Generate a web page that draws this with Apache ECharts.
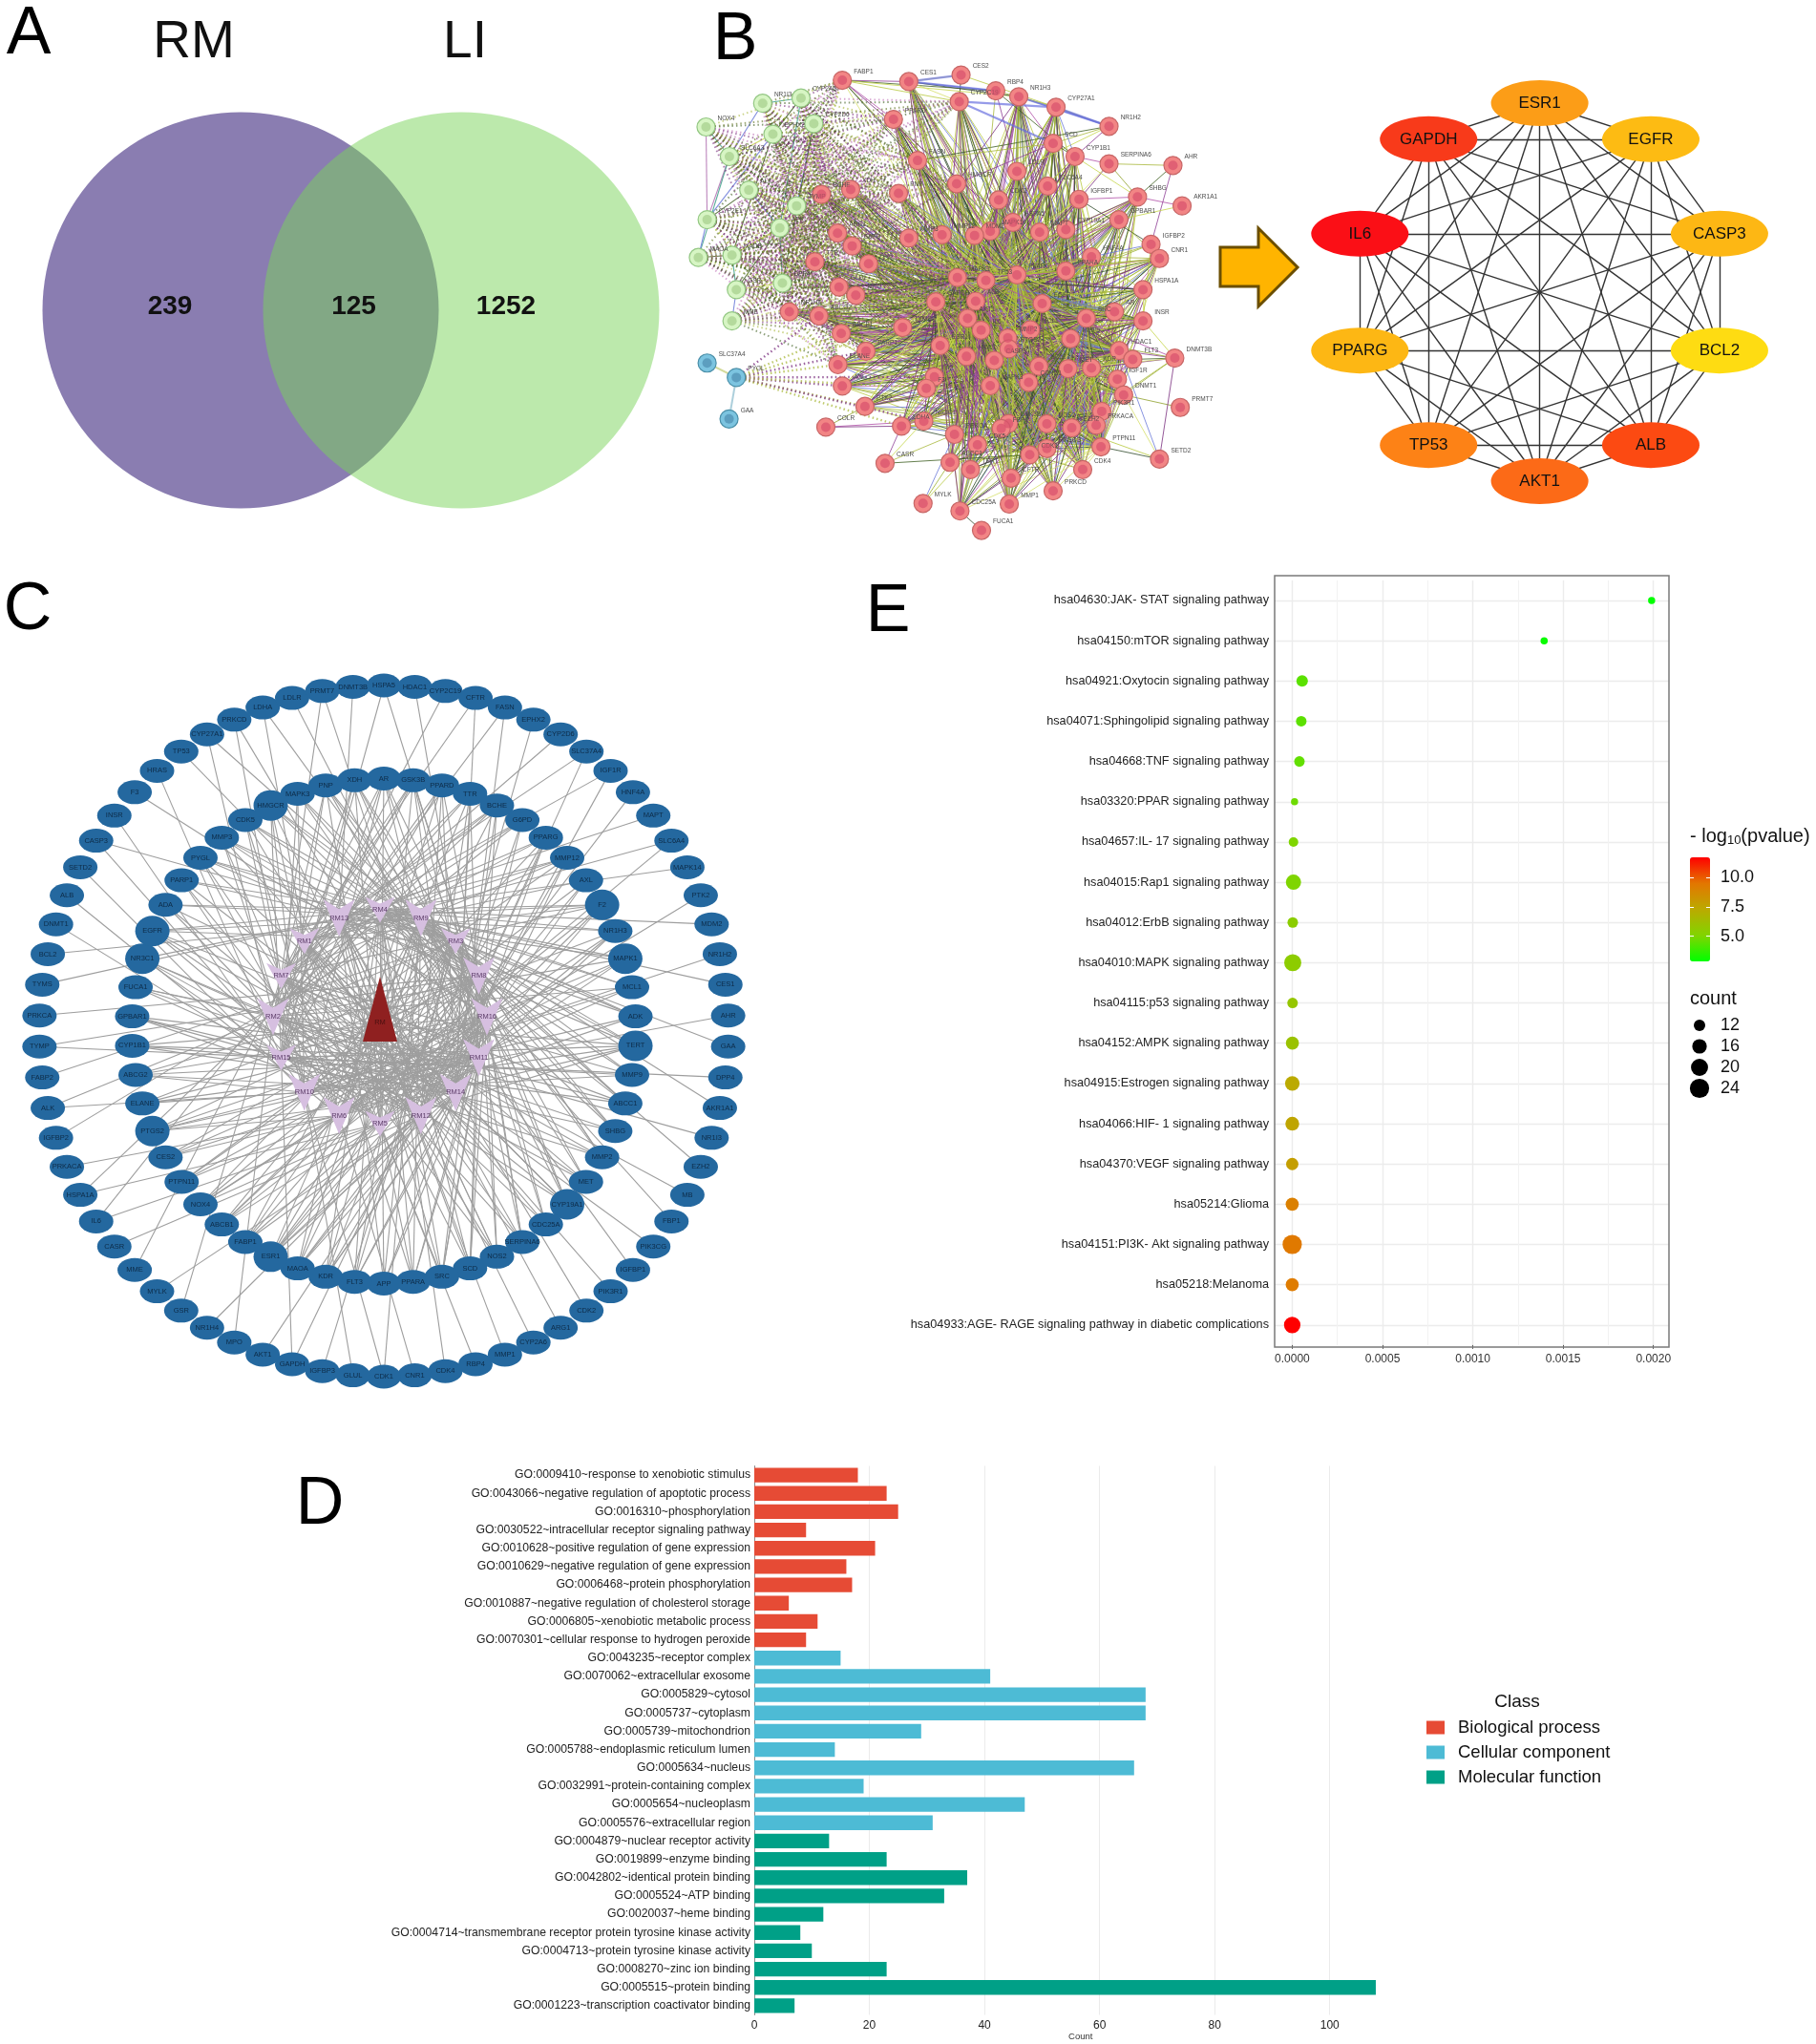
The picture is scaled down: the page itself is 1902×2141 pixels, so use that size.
<!DOCTYPE html>
<html><head><meta charset="utf-8">
<script src="https://cdn.jsdelivr.net/npm/echarts@6/dist/echarts.min.js"></script>
<style>html,body{margin:0;padding:0;background:#fff}#c{width:1902px;height:2141px}</style>
</head><body><div id="c"></div>
<script>
// ---------- Panel A data
const vennSets = ['RM', 'LI'];
const vennCounts = [239, 125, 1252];

// ---------- Panel B (right): hub genes, clockwise from top
const hubGenes = ['ESR1','EGFR','CASP3','BCL2','ALB','AKT1','TP53','PPARG','IL6','GAPDH'];
const hubColors = ['#fc9d17','#fdbb13','#fdb714','#fedc12','#fc4a12','#fc6a17','#fd8216','#fdb714','#fb0f16','#f83a1a'];

// ---------- Panel B (left): STRING network, positions (picture units 0..1568)
const bRed = [['FABP1',450,128],['CES1',632,132],['CES2',775,112],['CYP2C19',770,193],['RBP4',870,160],['NR1H3',933,178],['CYP27A1',1035,210],['NR1H2',1180,268],['PPARD',590,247],['SCD',1027,320],['CYP1B1',1087,360],['SERPINA6',1180,382],['AHR',1355,387],['FASN',656,372],['LDLR',928,405],['HMGCR',763,443],['SLC6A4',1012,450],['AKR1A1',1380,510],['SHBG',1258,483],['BCHE',393,475],['XDH',473,460],['PNP',604,472],['CDK2',878,492],['IGFBP1',1098,490],['GPBAR1',1207,552],['CYP19A1',1062,582],['HSPA5',917,560],['MAPT',990,590],['MAPK14',855,587],['MDM2',812,600],['MMP12',723,598],['MMP3',632,608],['ARG1',437,593],['G6PD',477,632],['TTR',375,680],['ADA',522,686],['IGFBP2',1295,627],['CNR1',1318,670],['HNF4A',1132,665],['PPARA',1062,708],['PPARG',928,720],['TP53',843,737],['MAPK1',765,728],['GLUL',441,757],['MPO',487,782],['HSPA1A',1273,765],['GAPDH',706,802],['ALB',815,800],['EGFR',997,807],['AR',1195,832],['INSR',1273,860],['NR1H4',305,832],['ABCG2',386,845],['AKT1',793,852],['SRC',1118,852],['TYMS',615,880],['IL6',830,888],['ABCB1',447,898],['MCL1',965,887],['MMP2',903,912],['MMP9',1075,914],['PARP1',515,952],['ESR1',718,935],['PTGS2',906,945],['HRAS',790,968],['CASP3',866,980],['DNMT3B',1360,973],['HDAC1',1208,950],['FLT3',1245,977],['BCL2',988,998],['MET',1068,1005],['KDR',1132,1003],['ELANE',438,993],['F2',702,1030],['F3',680,1065],['IGF1R',1203,1037],['MAPK3',855,1057],['CCND1',960,1047],['AXL',450,1058],['DNMT1',1220,1085],['PRMT7',1375,1123],['PTK2',512,1120],['PIK3R1',1160,1135],['COLR',405,1183],['LDHA',612,1180],['NR3C1',673,1165],['GSK3B',905,1172],['FBP1',885,1187],['NOS2',1010,1173],['EZH2',1078,1185],['PRKACA',1145,1177],['PRKCA',757,1205],['CDK5',820,1237],['PTPN11',1158,1243],['PIK3CG',1010,1248],['CDK1',963,1267],['SETD2',1318,1280],['CASR',567,1293],['ABCC1',745,1290],['TERT',801,1312],['CDK4',1108,1312],['CFTR',912,1338],['PRKCD',1027,1377],['MYLK',671,1415],['CDC25A',772,1438],['MMP1',907,1417],['FUCA1',831,1497]];
const bGreen = [['NR1I3',232,198],['CYP2A6',337,182],['NOX4',77,270],['CYP2D6',372,260],['EPHX2',260,292],['SLC6A3',141,360],['ALK',194,462],['TYMP',325,510],['CYP2E1',80,552],['APP',279,577],['MAOA',56,667],['MAOB',148,660],['DPP4',286,745],['GSR',160,765],['MME',148,860]];
const bBlue = [['SLC37A4',80,988],['PYGL',160,1032],['GAA',140,1158]];
const bCentral = ['AKT1','IL6','ALB','GAPDH','TP53','EGFR','ESR1','CASP3','BCL2','PPARG','SRC','MAPK1','MAPK3','HRAS','MMP9','KDR','MET','CDK1','PIK3R1','PTPN11','EZH2','HDAC1','MMP2','PTGS2'];
const bFringe = ['AHR','AKR1A1','PRMT7','SETD2','DNMT3B','FUCA1','MYLK','CASR','COLR','CES2','NR1H2','SERPINA6','IGFBP2','FABP1','RBP4'];
const bRimLinks = [['AHR','SERPINA6'],['AHR','IGFBP2'],['AHR','SHBG'],['AKR1A1','GPBAR1'],['AKR1A1','SHBG'],['PRMT7','DNMT1'],['SETD2','DNMT3B'],['SETD2','DNMT1'],['SETD2','PTPN11'],['SETD2','EZH2'],['SETD2','HDAC1'],['DNMT3B','DNMT1'],['DNMT3B','EZH2'],['DNMT3B','HDAC1'],['DNMT3B','FLT3'],['DNMT3B','INSR'],['DNMT3B','TP53'],['DNMT3B','AKT1'],['DNMT3B','KDR'],['DNMT3B','MET'],['FUCA1','CDC25A'],['MYLK','CDK5'],['MYLK','PRKCA'],['MYLK','ABCC1'],['CASR','PRKCA'],['CASR','LDHA'],['CASR','CDK1'],['CASR','NR3C1'],['COLR','NR3C1'],['COLR','PTK2'],['COLR','LDHA'],['CES2','CES1'],['CES2','CYP2C19'],['CES2','CYP27A1'],['NR1H2','NR1H3'],['NR1H2','CYP27A1'],['NR1H2','SCD'],['NR1H2','CYP1B1'],['NR1H2','FASN'],['NR1H2','LDLR'],['SERPINA6','CYP1B1'],['SERPINA6','SHBG'],['SERPINA6','IGFBP1'],['SERPINA6','ALB'],['IGFBP2','IGFBP1'],['IGFBP2','INSR'],['IGFBP2','HNF4A'],['IGFBP2','AKT1'],['IGFBP2','ALB'],['FABP1','CES1'],['FABP1','RBP4'],['FABP1','NR1H3'],['FABP1','PPARD'],['FABP1','FASN'],['FABP1','PPARA'],['FABP1','ALB'],['FABP1','PPARG'],['FABP1','CYP2C19'],['RBP4','CES1'],['RBP4','CYP27A1'],['RBP4','ALB'],['RBP4','LDLR'],['RBP4','CYP1B1'],['NR1H3','CYP27A1'],['NR1H3','SCD'],['NR1H3','LDLR'],['NR1H3','HMGCR'],['CES1','CYP2C19'],['CES1','NR1H3'],['CYP27A1','SCD'],['CYP27A1','CYP1B1'],['CYP27A1','LDLR'],['SCD','FASN'],['SCD','HMGCR'],['SCD','CYP1B1'],['SHBG','CYP1B1'],['SHBG','IGFBP1'],['SHBG','GPBAR1'],['SHBG','CYP19A1'],['INSR','HSPA1A'],['INSR','AR'],['HSPA1A','HNF4A'],['HSPA1A','AR'],['CNR1','GPBAR1'],['CNR1','HNF4A'],['HNF4A','PPARA']];
const bBlueLinks = [['CES1','CES2'],['CYP27A1','NR1H2'],['CYP2C19','CYP27A1'],['NR1H3','NR1H2'],['CYP2C19','SCD'],['RBP4','CES1']];
const bGreenLinks = [['NR1I3','CYP2A6'],['NR1I3','EPHX2'],['NR1I3','SLC6A3'],['CYP2A6','EPHX2'],['CYP2A6','CYP2D6'],['CYP2A6','APP'],['CYP2D6','APP'],['CYP2D6','TYMP'],['CYP2D6','DPP4'],['NOX4','CYP2E1'],['NOX4','SLC6A3'],['EPHX2','SLC6A3'],['EPHX2','CYP2E1'],['EPHX2','MAOB'],['SLC6A3','CYP2E1'],['SLC6A3','MAOA'],['ALK','TYMP'],['ALK','APP'],['ALK','CYP2E1'],['TYMP','APP'],['APP','DPP4'],['APP','MAOB'],['CYP2E1','MAOA'],['MAOA','MAOB'],['MAOB','DPP4'],['MAOB','GSR'],['DPP4','GSR'],['GSR','MME'],['GSR','APP']];
const bDottedTargets = ['FABP1','PPARD','FASN','CYP2C19','HMGCR','BCHE','XDH','PNP','ARG1','G6PD','TTR','ADA','GLUL','MPO','NR1H4','ABCG2','ABCB1','TYMS','PARP1','ELANE','GAPDH','MMP3','MMP12','AKT1','ALB','TP53'];
const bPyglTargets = ['ELANE','AXL','PTK2','PARP1','ABCB1','ABCG2','TYMS','F2','F3','NR3C1','LDHA'];

// ---------- Panel C: compound-target network rings, clockwise from top
const cOuter = ['HSPA5','HDAC1','CYP2C19','CFTR','FASN','EPHX2','CYP2D6','SLC37A4','IGF1R','HNF4A','MAPT','SLC6A4','MAPK14','PTK2','MDM2','NR1H2','CES1','AHR','GAA','DPP4','AKR1A1','NR1I3','EZH2','MB','FBP1','PIK3CG','IGFBP1','PIK3R1','CDK2','ARG1','CYP2A6','MMP1','RBP4','CDK4','CNR1','CDK1','GLUL','IGFBP3','GAPDH','AKT1','MPO','NR1H4','GSR','MYLK','MME','CASR','IL6','HSPA1A','PRKACA','IGFBP2','ALK','FABP2','TYMP','PRKCA','TYMS','BCL2','DNMT1','ALB','SETD2','CASP3','INSR','F3','HRAS','TP53','CYP27A1','PRKCD','LDHA','LDLR','PRMT7','DNMT3B'];
const cOuterLinks = [[15,16],[11],[2],[14,7],[2,14],[12],[7],[12,1],[1,12],[5],[13],[6,1],[4],[6],[4],[10],[9],[10],[3],[15],[3],[2],[8],[7],[16],[7],[11],[1],[14],[13],[12],[13],[5],[4],[6],[9,10],[10],[3],[15,8],[16],[2],[11],[7],[14],[1],[12],[13,5],[5,4],[6],[9],[10,3],[3],[15,8],[8],[4],[9],[5],[6],[10],[3,6],[10],[16],[15],[11],[2,8],[14,7],[1,16],[11],[14,7],[13]];
const cInner = ['AR','GSK3B','PPARD','TTR','BCHE','G6PD','PPARG','MMP12','AXL','F2','NR1H3','MAPK1','MCL1','ADK','TERT','MMP9','ABCC1','SHBG','MMP2','MET','CYP19A1','CDC25A','SERPINA6','NOS2','SCD','SRC','PPARA','APP','FLT3','KDR','MAOA','ESR1','FABP1','ABCB1','NOX4','PTPN11','CES2','PTGS2','ELANE','ABCG2','CYP1B1','GPBAR1','FUCA1','NR3C1','EGFR','ADA','PARP1','PYGL','MMP3','CDK5','HMGCR','MAPK3','PNP','XDH'];
const cInnerLinks = [[8,11,10,15,7,14],[16,11,14,15,2,7],[16,14,12,2,15],[11,14,12,2,7],[14,11,2,7,1],[12,14,7,2],[14,12,5,7,1],[14,12,7,1,13],[12,1,5],[12,5,6,1,13,4,7],[5,6,13,4,12],[5,6,10,4,13],[6,10,4,9],[6,10,4,13,9],[6,10,15,4,9,13,5],[10,15,9,4],[15,2,9,3,4],[15,2,9,3,4],[2,15,3,9,8],[2,7,3,9],[2,7,8,3,9,1],[7,1,8,3],[7,1,8,16,3],[1,7,16,8,13],[1,13,16,8,11],[13,1,16,11,8],[13,4,11,16,1],[4,13,11,14,9],[4,9,14,11],[9,4,14,12,11],[9,3,12,14,4],[3,9,12,5,14,8],[3,8,5,12],[8,3,5,6],[8,16,5,6],[16,8,6,10],[16,11,6,8],[16,11,6,10,14,8],[11,16,10],[11,14,10,16],[14,11,15],[14,12,15,11],[14,12,2],[12,14,5,4,2],[12,5,14,9,4,3],[5,12,9,4],[5,6,9,3],[6,5,3,9,8],[6,10,3,8,16],[10,6,8,3],[10,15,8,16,6,3],[10,15,16,8,11],[15,2,16,11,8],[15,2,11,16,8]];
const cCrossLinks = [['AR',5],['PPARD',6],['BCHE',6],['PPARG',10],['AXL',10],['NR1H3',15],['MCL1',2],['TERT',2],['ABCC1',7],['MMP2',7],['CYP19A1',1],['SERPINA6',13],['SCD',4],['PPARA',9],['FLT3',3],['MAOA',16],['ESR1',16],['FABP1',9],['NOX4',3],['ELANE',8],['CYP1B1',16],['FUCA1',11],['EGFR',11],['PARP1',14],['MMP3',14],['HMGCR',12],['PNP',5],['XDH',5],['GSK3B',5],['TTR',6],['MMP12',15],['MAPK1',2],['MMP9',7],['MET',1],['NOS2',13],['SRC',4],['KDR',3],['ABCB1',16],['ABCG2',8],['ADA',11],['PYGL',14],['CDK5',12]];
const cHerbs = ['RM4','RM9','RM3','RM8','RM16','RM11','RM14','RM12','RM5','RM6','RM10','RM15','RM2','RM7','RM1','RM13'];
const cBigHerbs = ['RM9','RM8','RM16','RM11','RM14','RM12','RM6','RM10','RM2','RM13'];
const cBigTargets = ['ESR1','CYP19A1','TERT','F2','EGFR','PTGS2','HMGCR','MAPK1','NR3C1'];

// ---------- Panel D data
const goTerms = ['GO:0009410~response to xenobiotic stimulus','GO:0043066~negative regulation of apoptotic process','GO:0016310~phosphorylation','GO:0030522~intracellular receptor signaling pathway','GO:0010628~positive regulation of gene expression','GO:0010629~negative regulation of gene expression','GO:0006468~protein phosphorylation','GO:0010887~negative regulation of cholesterol storage','GO:0006805~xenobiotic metabolic process','GO:0070301~cellular response to hydrogen peroxide','GO:0043235~receptor complex','GO:0070062~extracellular exosome','GO:0005829~cytosol','GO:0005737~cytoplasm','GO:0005739~mitochondrion','GO:0005788~endoplasmic reticulum lumen','GO:0005634~nucleus','GO:0032991~protein-containing complex','GO:0005654~nucleoplasm','GO:0005576~extracellular region','GO:0004879~nuclear receptor activity','GO:0019899~enzyme binding','GO:0042802~identical protein binding','GO:0005524~ATP binding','GO:0020037~heme binding','GO:0004714~transmembrane receptor protein tyrosine kinase activity','GO:0004713~protein tyrosine kinase activity','GO:0008270~zinc ion binding','GO:0005515~protein binding','GO:0001223~transcription coactivator binding'];
const bpCounts = [18,23,25,9,21,16,17,6,11,9];
const ccCounts = [15,41,68,68,29,14,66,19,47,31];
const mfCounts = [13,23,37,33,12,8,10,23,108,7];
const goClasses = ['Biological process','Cellular component','Molecular function'];

// ---------- Panel E data
const pathways = ['hsa04630:JAK- STAT signaling pathway','hsa04150:mTOR signaling pathway','hsa04921:Oxytocin signaling pathway','hsa04071:Sphingolipid signaling pathway','hsa04668:TNF signaling pathway','hsa03320:PPAR signaling pathway','hsa04657:IL- 17 signaling pathway','hsa04015:Rap1 signaling pathway','hsa04012:ErbB signaling pathway','hsa04010:MAPK signaling pathway','hsa04115:p53 signaling pathway','hsa04152:AMPK signaling pathway','hsa04915:Estrogen signaling pathway','hsa04066:HIF- 1 signaling pathway','hsa04370:VEGF signaling pathway','hsa05214:Glioma','hsa04151:PI3K- Akt signaling pathway','hsa05218:Melanoma','hsa04933:AGE- RAGE signaling pathway in diabetic complications'];
const pValues = [0.00199,0.001395,0.000055,0.00005,0.00004,0.000013,0.000007,0.000007,0.000003,0.000003,0.000002,0.000001,0.0000005,0.0000004,0.0000002,0.00000001,0.000000005,0.000000006,0.000000000002];
const logP = [2.7,2.85,4.26,4.3,4.4,4.6,4.9,4.9,5.3,5.4,5.7,5.9,7.2,7.4,7.7,9.0,9.3,9.2,11.7];
const pathCounts = [8,8,12,11,11,8,10,17,11,20,11,14,16,15,13,14,24,14,19];
const countBreaks = [12,16,20,24];

// ---------- helpers
const sizeFor = c => Math.sqrt(22 * c - 120);
function ring(names, cx, cy, rx, ry) {
  return names.map((n, i) => {
    const a = i / names.length * 2 * Math.PI;
    return { name: n, x: cx + rx * Math.sin(a), y: cy - ry * Math.cos(a) };
  });
}
const FONT = '"Liberation Sans", Arial, sans-serif';

// ---------- network B left
const bPalette = ['#a9b83c','#8e3f96','#3f5f22','#c5d64a','#b04fa8','#8fa02a','#7b2f7f','#d6e06a','#2f4a2a','#b8c93f','#6a79d8','#9bb030'];
const dotPalette = ['#7b2f7f','#a9b83c','#3f5f22','#c070b8','#5b6f1c'];
const bAll = bRed.map(d => d.concat('r')).concat(bGreen.map(d => d.concat('g')), bBlue.map(d => d.concat('b')));
const bStyle = { r: ['#f28585', '#c76666', '#d9506c'], g: ['#d7f5c4', '#93c783', '#a5cf8c'], b: ['#7cc4e0', '#4a8fa8', '#4f8fb0'] };
const bNodes = bAll.map(d => ({
  name: d[0], value: [d[1], d[2]],
  itemStyle: { color: bStyle[d[3]][0], borderColor: bStyle[d[3]][1], borderWidth: 1.2 }
}));
const bLinks = [];
let ci = 0;
bRed.forEach(d => {
  if (bFringe.includes(d[0])) return;
  bCentral.forEach(h => {
    if (h === d[0]) return;
    bLinks.push({ source: h, target: d[0], lineStyle: { color: bPalette[ci++ % bPalette.length], width: 1, opacity: 0.8 } });
  });
});
bRimLinks.forEach(l => bLinks.push({ source: l[0], target: l[1], lineStyle: { color: bPalette[ci++ % bPalette.length], width: 1, opacity: 0.8 } }));
bBlueLinks.forEach(l => bLinks.push({ source: l[0], target: l[1], lineStyle: { color: '#6a70e0', width: 2.2, opacity: 0.7 } }));
bGreenLinks.forEach(l => bLinks.push({ source: l[0], target: l[1], lineStyle: { color: ['#3fa08a', '#c5d64a', '#6a79d8', '#3f5f22', '#b070b0'][ci++ % 5], width: 1.1, opacity: 0.85 } }));
bGreen.forEach(g => bDottedTargets.forEach(t => {
  bLinks.push({ source: g[0], target: t, lineStyle: { color: dotPalette[ci++ % dotPalette.length], width: 2, type: [1.5, 3], opacity: 0.6 } });
}));
bPyglTargets.forEach(t => bLinks.push({ source: 'PYGL', target: t, lineStyle: { color: dotPalette[ci++ % 2], width: 2.4, type: [1.5, 3], opacity: 0.75 } }));
[['SLC37A4','PYGL','#a9b83c'],['PYGL','GAA','#5aa0b8']].forEach(l => bLinks.push({ source: l[0], target: l[1], lineStyle: { color: l[2], width: 2 } }));

// ---------- network B right
const hubPos = ring(hubGenes, 1612.6, 306, 198, 198);
const hubNodes = hubPos.map((p, i) => ({ name: p.name, value: [p.x, p.y], itemStyle: { color: hubColors[i] } }));
const hubLinks = [];
hubGenes.forEach((a, i) => hubGenes.forEach((b, j) => { if (j > i) hubLinks.push({ source: a, target: b }); }));

// ---------- network C
const outerPos = ring(cOuter, 402, 1080, 361, 362);
const innerPos = ring(cInner, 402, 1080, 264, 264.5);
const herbPos = ring(cHerbs, 398, 1065, 112, 112);
const cNodes = [];
outerPos.forEach(p => cNodes.push({ name: p.name, value: [p.x, p.y], symbolSize: [36, 25] }));
innerPos.forEach(p => cNodes.push({ name: p.name, value: [p.x, p.y], symbolSize: [36, cBigTargets.includes(p.name) ? 32 : 25] }));
herbPos.forEach(p => {
  const big = cBigHerbs.includes(p.name);
  cNodes.push({ name: p.name, value: [p.x, p.y], symbol: 'path://M0,0 L50,26 L100,0 L50,100 Z', symbolSize: big ? [33, 39] : [31, 27], itemStyle: { color: '#d6bfe0' }, label: { color: '#5a3a66' } });
});
cNodes.push({ name: 'RM', value: [398, 1057], symbol: 'triangle', symbolSize: [36, 68], itemStyle: { color: '#8f2020' }, label: { color: '#4a1010', offset: [0, 14] } });
const cLinks = [];
cOuter.forEach((n, i) => cOuterLinks[i].forEach(r => cLinks.push({ source: n, target: 'RM' + r })));
cInner.forEach((n, i) => cInnerLinks[i].forEach(r => cLinks.push({ source: n, target: 'RM' + r })));
cCrossLinks.forEach(l => cLinks.push({ source: l[0], target: 'RM' + l[1] }));

// ---------- Panel A marks
const vennMarks = [
  { value: [252, 325], itemStyle: { color: '#8a7db1', opacity: 1 } },
  { value: [483, 325], itemStyle: { color: 'rgb(121,211,89)', opacity: 0.5 } }
];

const pageAxis = (extent, extra) => Object.assign({ type: 'value', gridIndex: 0, min: 0, max: extent, show: false }, extra);

const eMajor = [0, 0.0005, 0.001, 0.0015, 0.002];
const eMinor = [0.00025, 0.00075, 0.00125, 0.00175];

const option = {
  animation: false,
  backgroundColor: '#fff',
  textStyle: { fontFamily: FONT },
  grid: [
    { left: 0, top: 0, width: 1902, height: 2141 },
    { left: 710, top: 40, width: 600, height: 540 },
    { left: 790, top: 1535.5, width: 683.5, height: 575 },
    { left: 1335, top: 607.9, width: 413, height: 801 },
    { left: 1770, top: 888.3, width: 21, height: 123 }
  ],
  xAxis: [
    pageAxis(1902),
    { type: 'value', gridIndex: 1, min: 0, max: 1568, show: false },
    { type: 'value', gridIndex: 2, min: 0, max: 113.4, interval: 20, name: 'Count', nameLocation: 'middle', nameGap: 18, nameTextStyle: { fontSize: 9.5, color: '#333' },
      axisLine: { lineStyle: { color: '#8a8a8a', width: 1.5 } }, axisTick: { show: false }, axisLabel: { color: '#222', fontSize: 12, margin: 5, showMaxLabel: false },
      splitLine: { show: true, showMinLine: false, showMaxLine: false, lineStyle: { color: '#ebebeb', width: 1 } } },
    { type: 'value', gridIndex: 3, min: -0.0000973, max: 0.002086, position: 'bottom',
      axisLine: { show: false }, axisTick: { show: true, customValues: eMajor, length: 4, lineStyle: { color: '#555' } },
      axisLabel: { customValues: eMajor, formatter: v => v.toFixed(4), color: '#333', fontSize: 12, margin: 9 },
      splitLine: { show: true, lineStyle: { color: '#ececec', width: 1.4 } } },
    { type: 'value', gridIndex: 3, min: -0.0000973, max: 0.002086, position: 'top',
      axisLine: { show: false }, axisTick: { show: false, customValues: eMinor },
      axisLabel: { show: false, customValues: eMinor },
      splitLine: { show: true, lineStyle: { color: '#f2f2f2', width: 1 } } },
    { type: 'value', gridIndex: 4, min: 0, max: 1, show: false }
  ],
  yAxis: [
    pageAxis(2141, { inverse: true }),
    { type: 'value', gridIndex: 1, min: 0, max: 1568, inverse: true, show: false },
    { type: 'category', gridIndex: 2, data: goTerms, inverse: true,
      axisLine: { lineStyle: { color: '#8a8a8a', width: 1 } }, axisTick: { show: false },
      axisLabel: { interval: 0, fontSize: 12.2, color: '#222', margin: 4 } },
    { type: 'category', gridIndex: 3, data: pathways, inverse: true,
      axisLine: { show: false }, axisTick: { alignWithLabel: true, length: 4, lineStyle: { color: '#555' } },
      axisLabel: { interval: 0, fontSize: 12.7, color: '#222', margin: 6 },
      splitLine: { show: true, alignWithLabel: true, interval: 0, lineStyle: { color: '#ececec', width: 1.4 } } },
    { type: 'value', gridIndex: 4, min: 2.5, max: 12.5, interval: 2.5, position: 'left', z: 10,
      axisLine: { show: false }, axisLabel: { show: false }, splitLine: { show: false },
      axisTick: { inside: true, length: 4, lineStyle: { color: '#fff' } } },
    { type: 'value', gridIndex: 4, min: 2.5, max: 12.5, interval: 2.5, position: 'right', z: 10,
      axisLine: { show: false }, splitLine: { show: false },
      axisTick: { inside: true, length: 4, lineStyle: { color: '#fff' } },
      axisLabel: { fontSize: 18, color: '#111', margin: 11, formatter: v => (v >= 5 && v <= 10) ? v.toFixed(1) : '' } }
  ],
  visualMap: [{
    type: 'continuous', seriesIndex: 7, dimension: 2, min: 2.7, max: 11.7,
    left: 1770, top: 898, itemWidth: 21, itemHeight: 109, padding: 0, show: true,
    calculable: false, hoverLink: false, realtime: false, text: null,
    inRange: { color: ['#00ff00', '#82d400', '#bbaa00', '#e37600', '#ff0000'] }
  }],
  legend: {
    data: goClasses, orient: 'vertical', left: 1494, top: 1800, padding: 0, itemWidth: 19, itemHeight: 14, itemGap: 7,
    selectedMode: false, icon: 'rect', textStyle: { fontSize: 18.5, color: '#111', padding: [0, 0, 0, 9] }
  },
  series: [
    // Panel A
    { type: 'scatter', xAxisIndex: 0, yAxisIndex: 0, silent: true, symbolSize: 415, data: vennMarks, z: 1 },
    // Panel B left
    { type: 'graph', coordinateSystem: 'cartesian2d', xAxisIndex: 1, yAxisIndex: 1, silent: true, symbol: 'circle', symbolSize: 19,
      data: bNodes, links: bLinks, z: 2,
      label: { show: true, position: 'right', offset: [-3, -9], fontSize: 6.5, color: '#4a4a4a' } },
    { type: 'scatter', xAxisIndex: 1, yAxisIndex: 1, silent: true, symbolSize: 10, z: 3,
      data: bAll.map(d => ({ value: [d[1], d[2]], itemStyle: { color: bStyle[d[3]][2], opacity: 0.7 } })) },
    // Panel B right
    { type: 'graph', coordinateSystem: 'cartesian2d', xAxisIndex: 0, yAxisIndex: 0, silent: true, symbol: 'circle', symbolSize: [102, 48],
      data: hubNodes, links: hubLinks, z: 2, lineStyle: { color: '#333', width: 1.4, opacity: 1 },
      label: { show: true, position: 'inside', fontSize: 17, color: '#111' } },
    // Panel C
    { type: 'graph', coordinateSystem: 'cartesian2d', xAxisIndex: 0, yAxisIndex: 0, silent: true, symbol: 'circle',
      data: cNodes, links: cLinks, z: 2, itemStyle: { color: '#24689f' }, lineStyle: { color: '#9e9e9e', width: 1.1, opacity: 1 },
      label: { show: true, position: 'inside', fontSize: 7.5, color: '#0d2b47' } },
    // Panel D
    { name: goClasses[0], type: 'bar', xAxisIndex: 2, yAxisIndex: 2, barGap: '-100%', barWidth: 15.3, itemStyle: { color: '#E64B35' }, silent: true,
      data: goTerms.map((t, i) => i < 10 ? bpCounts[i] : null) },
    { name: goClasses[1], type: 'bar', xAxisIndex: 2, yAxisIndex: 2, barGap: '-100%', barWidth: 15.3, itemStyle: { color: '#4DBBD5' }, silent: true,
      data: goTerms.map((t, i) => (i >= 10 && i < 20) ? ccCounts[i - 10] : null) },
    // Panel E
    { type: 'scatter', xAxisIndex: 3, yAxisIndex: 3, silent: true, z: 4, itemStyle: { opacity: 1 },
      symbolSize: v => sizeFor(v[3]),
      data: pathways.map((p, i) => [pValues[i], i, logP[i], pathCounts[i]]) },
    { name: goClasses[2], type: 'bar', xAxisIndex: 2, yAxisIndex: 2, barGap: '-100%', barWidth: 15.3, itemStyle: { color: '#00A087' }, silent: true,
      data: goTerms.map((t, i) => i >= 20 ? mfCounts[i - 20] : null) },
    // Panel E size legend
    { type: 'scatter', xAxisIndex: 0, yAxisIndex: 0, silent: true, itemStyle: { color: '#000', opacity: 1 },
      symbolSize: v => sizeFor(v[2]),
      data: countBreaks.map((c, i) => ({
        value: [1780, 1074 + i * 22, c],
        label: { show: true, position: 'right', distance: 22 - sizeFor(c) / 2, fontSize: 18, color: '#111', formatter: String(c) }
      })) },
    { type: 'bar', xAxisIndex: 5, yAxisIndex: 4, data: [], silent: true }
  ],
  graphic: { elements: [
    { type: 'text', x: 30, y: 37, style: { text: 'A', font: '70px ' + FONT, fill: '#000', align: 'center', verticalAlign: 'middle' } },
    { type: 'text', x: 770, y: 43, style: { text: 'B', font: '70px ' + FONT, fill: '#000', align: 'center', verticalAlign: 'middle' } },
    { type: 'text', x: 29, y: 640, style: { text: 'C', font: '70px ' + FONT, fill: '#000', align: 'center', verticalAlign: 'middle' } },
    { type: 'text', x: 335, y: 1577, style: { text: 'D', font: '70px ' + FONT, fill: '#000', align: 'center', verticalAlign: 'middle' } },
    { type: 'text', x: 930, y: 642, style: { text: 'E', font: '70px ' + FONT, fill: '#000', align: 'center', verticalAlign: 'middle' } },
    { type: 'text', x: 203, y: 45, style: { text: vennSets[0], font: '55px ' + FONT, fill: '#111', align: 'center', verticalAlign: 'middle' } },
    { type: 'text', x: 487, y: 45, style: { text: vennSets[1], font: '55px ' + FONT, fill: '#111', align: 'center', verticalAlign: 'middle' } },
    { type: 'text', x: 178, y: 321, z: 5, style: { text: String(vennCounts[0]), font: 'bold 28px ' + FONT, fill: '#111', align: 'center', verticalAlign: 'middle' } },
    { type: 'text', x: 370.5, y: 321, z: 5, style: { text: String(vennCounts[1]), font: 'bold 28px ' + FONT, fill: '#111', align: 'center', verticalAlign: 'middle' } },
    { type: 'text', x: 530, y: 321, z: 5, style: { text: String(vennCounts[2]), font: 'bold 28px ' + FONT, fill: '#111', align: 'center', verticalAlign: 'middle' } },
    { type: 'polygon', shape: { points: [[1278, 259], [1318, 259], [1318, 239], [1359, 280], [1318, 321], [1318, 300], [1278, 300]] },
      style: { fill: '#ffb400', stroke: '#6b4e00', lineWidth: 3 } },
    { type: 'rect', z: 5, shape: { x: 1335, y: 603, width: 413, height: 808 }, style: { fill: 'none', stroke: '#7a7a7a', lineWidth: 1.5 } },
    { type: 'text', x: 1770, y: 876, style: { text: '- log{s|10}(pvalue)', font: '20px ' + FONT, fill: '#111', verticalAlign: 'middle',
        rich: { s: { fontSize: 13, fontFamily: FONT, fill: '#111', padding: [8, 0, 0, 0] } } } },
    { type: 'text', x: 1770, y: 1046, style: { text: 'count', font: '20px ' + FONT, fill: '#111', verticalAlign: 'middle' } },
    { type: 'text', x: 1589, y: 1783, style: { text: 'Class', font: '19px ' + FONT, fill: '#111', align: 'center', verticalAlign: 'middle' } }
  ] }
};
const chart = echarts.init(document.getElementById('c'), null, { renderer: 'canvas', width: 1902, height: 2141 });
chart.setOption(option);
</script></body></html>
